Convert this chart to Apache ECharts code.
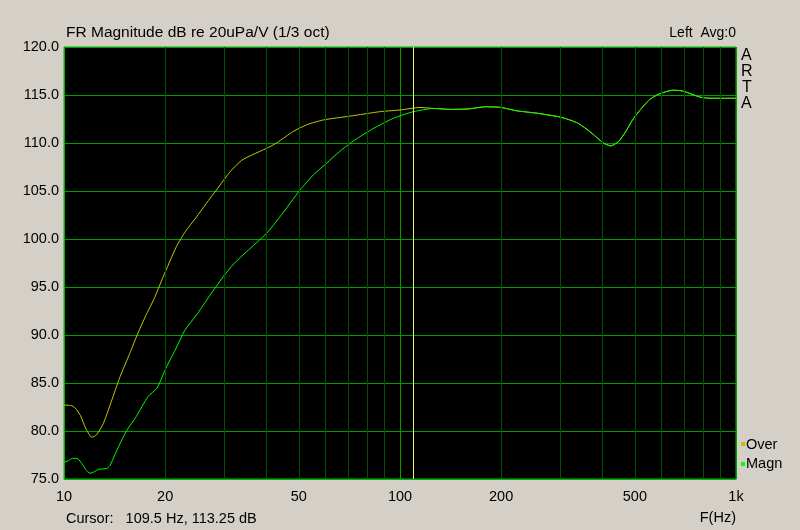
<!DOCTYPE html>
<html>
<head>
<meta charset="utf-8">
<script src="https://cdn.jsdelivr.net/npm/echarts@6/dist/echarts.min.js"></script>
<style>
html,body{margin:0;padding:0;background:#d4d0c8;}
#chart{width:800px;height:530px;}
</style>
</head>
<body>
<div id="chart"></div>
<script>
// ---- Data ----
const overFreq = [10, 10.5, 10.8, 11.2, 11.6, 12.1, 12.5, 13.1, 14.0, 14.7, 15.7, 16.6, 17.5, 18.5, 19.7, 21.6, 23.0, 24.8, 26.5, 28.4, 31.2, 33.8, 36.5, 40.1, 42.9, 48.1, 52.8, 59.1, 71, 87, 100, 114.7,
  126, 142, 160, 180, 200, 222, 256, 300, 337, 367, 403, 424, 447, 470, 492, 520, 554, 590, 649, 685, 713, 778, 836, 900, 1000];
const overDb = [82.7, 82.65, 82.4, 81.6, 80.3, 79.35, 79.6, 80.8, 83.6, 85.7, 88.1, 90.2, 92.0, 93.7, 96.0, 99.2, 100.8, 102.3, 103.7, 105.1, 107.0, 108.2, 108.8, 109.45, 110.0, 111.2, 111.9, 112.4, 112.8, 113.26, 113.44, 113.7,
  113.6, 113.5, 113.55, 113.78, 113.7, 113.36, 113.1, 112.7, 112.1, 111.2, 110.0, 109.7, 110.15, 111.2, 112.4, 113.5, 114.55, 115.1, 115.5, 115.45, 115.28, 114.8, 114.66, 114.66, 114.66];

const magnFreq = [10, 10.3, 10.6, 11.0, 11.3, 11.6, 11.95, 12.3, 12.65, 13.4, 13.7, 14.5, 15.4, 16.4, 17.8, 18.9, 20.2, 21.4, 22.9, 24.8, 26.6, 29.8, 32, 35.0, 40.1, 43.9, 50.4, 55.3, 60.5, 66, 73.3, 83.2, 95.5, 109.6,
  126, 142, 160, 180, 200, 222, 256, 300, 337, 367, 403, 424, 447, 470, 492, 520, 554, 590, 649, 685, 713, 778, 836, 900, 1000];
const magnDb = [76.75, 76.9, 77.15, 77.1, 76.6, 76.0, 75.6, 75.75, 76.0, 76.1, 76.4, 78.3, 80.1, 81.5, 83.6, 84.45, 86.7, 88.4, 90.5, 92.1, 93.65, 96.1, 97.4, 98.7, 100.6, 102.3, 105.1, 106.7, 107.9, 109.1, 110.3, 111.5, 112.57, 113.26,
  113.6, 113.5, 113.55, 113.78, 113.7, 113.36, 113.1, 112.7, 112.1, 111.2, 110.0, 109.7, 110.15, 111.2, 112.4, 113.5, 114.55, 115.1, 115.5, 115.45, 115.28, 114.8, 114.66, 114.66, 114.66];

const minorGridFreq = [20, 30, 40, 50, 60, 70, 80, 90, 200, 300, 400, 500, 600, 700, 800, 900];
const labeledFreq = {20: '20', 50: '50', 200: '200', 500: '500'};
const cursorFreq = 109.5;

const FONT = '"Liberation Sans", Arial, sans-serif';

const chart = echarts.init(document.getElementById('chart'), null, {renderer: 'canvas'});

const minorLines = minorGridFreq.map(f => ({
  xAxis: f,
  lineStyle: {color: '#005400', width: 1, type: 'solid'},
  label: labeledFreq[f] ? {show: true, position: 'start', formatter: labeledFreq[f], color: '#000', fontSize: 14.5, fontFamily: FONT, distance: 10} : {show: false}
}));

chart.setOption({
  animation: false,
  backgroundColor: '#d4d0c8',
  grid: {left: 64, top: 47, right: 64, bottom: 51, show: true, backgroundColor: '#000', borderColor: '#00b400', borderWidth: 1},
  xAxis: {
    type: 'log', logBase: 10, min: 10, max: 1000,
    axisLine: {show: true, lineStyle: {color: '#00b400'}},
    axisTick: {show: false},
    splitLine: {show: true, lineStyle: {color: '#00a000', width: 1}},
    axisLabel: {color: '#000', fontSize: 14.5, fontFamily: FONT, margin: 10,
      formatter: v => v >= 1000 ? '1k' : String(v)}
  },
  yAxis: {
    type: 'value', min: 75, max: 120, interval: 5,
    axisLine: {show: true, lineStyle: {color: '#00b400'}},
    axisTick: {show: false},
    splitLine: {show: true, lineStyle: {color: '#00a000', width: 1}},
    axisLabel: {color: '#000', fontSize: 14.5, fontFamily: FONT, margin: 5,
      formatter: v => v.toFixed(1)}
  },
  series: [
    {
      name: 'grid', type: 'line', data: [], silent: true, z: 1,
      markLine: {silent: true, symbol: ['none', 'none'], animation: false, data: minorLines}
    },
    {
      name: 'Over', type: 'line', showSymbol: false, smooth: 0.2, z: 3,
      lineStyle: {color: '#c8c800', width: 1},
      data: overFreq.map((f, i) => [f, overDb[i]])
    },
    {
      name: 'Magn', type: 'line', showSymbol: false, smooth: 0.2, z: 4,
      lineStyle: {color: '#00ff00', width: 1},
      data: magnFreq.map((f, i) => [f, magnDb[i]]),
      markLine: {silent: true, symbol: ['none', 'none'], animation: false, z: 5,
        lineStyle: {color: '#eeee70', width: 1, type: 'solid'},
        label: {show: false},
        data: [{xAxis: cursorFreq}]}
    }
  ],
  graphic: [
    {type: 'text', left: 66, top: 25, style: {text: 'FR Magnitude dB re 20uPa/V (1/3 oct)', fill: '#000', font: '15.5px ' + FONT}},
    {type: 'text', right: 64, top: 26, style: {text: 'Left  Avg:0', fill: '#000', font: '14px ' + FONT}},
    {type: 'text', left: 741, top: 48, style: {text: 'A', fill: '#000', font: '16px ' + FONT}},
    {type: 'text', left: 741, top: 64, style: {text: 'R', fill: '#000', font: '16px ' + FONT}},
    {type: 'text', left: 742, top: 80, style: {text: 'T', fill: '#000', font: '16px ' + FONT}},
    {type: 'text', left: 741, top: 96, style: {text: 'A', fill: '#000', font: '16px ' + FONT}},
    {type: 'rect', shape: {x: 741, y: 442, width: 4, height: 4}, style: {fill: '#c0c000'}},
    {type: 'text', left: 746, top: 437, style: {text: 'Over', fill: '#000', font: '14.5px ' + FONT}},
    {type: 'rect', shape: {x: 741, y: 462, width: 4, height: 4}, style: {fill: '#00ff00'}},
    {type: 'text', left: 746, top: 456, style: {text: 'Magn', fill: '#000', font: '14.5px ' + FONT}},
    {type: 'text', left: 66, top: 511, style: {text: 'Cursor:   109.5 Hz, 113.25 dB', fill: '#000', font: '14.5px ' + FONT}},
    {type: 'text', right: 64, top: 510, style: {text: 'F(Hz)', fill: '#000', font: '14.5px ' + FONT}}
  ]
});
</script>
</body>
</html>
